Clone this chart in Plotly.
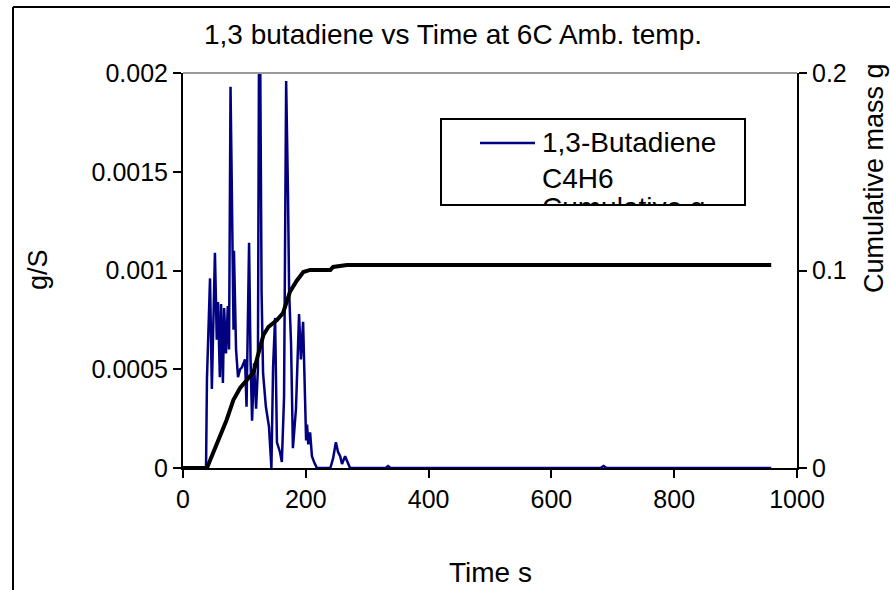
import plotly.graph_objects as go

# ---- data ----
time_rate = [0, 37.5, 39, 44, 47, 52, 55, 57, 60, 62, 65, 67, 70, 73, 75, 77.4, 79, 80.7, 82.3, 83,
             86.4, 89.6, 93, 96, 101, 103.5, 107.6, 110, 112.5, 115.7, 119, 122, 123.9, 125.5, 128,
             130.4, 135, 140, 144, 146.7, 150, 153, 158, 161, 164.6, 168, 169.5, 171, 172.8, 176,
             179, 184, 189, 192, 195.6, 199, 200.5, 202, 204, 207, 210, 213.5, 218, 240, 244.5, 249,
             252.6, 256, 259, 264, 267, 272, 330, 334, 338, 680, 685, 690, 958]
rate_gs = [0, 0, 0.00045, 0.00096, 0.00040, 0.00109, 0.00065, 0.00084, 0.00046, 0.00083, 0.00043,
           0.00081, 0.00058, 0.00082, 0.00060, 0.00193, 0.00154, 0.00112, 0.00070, 0.00110,
           0.00060, 0.00046, 0.00050, 0.00051, 0.00055, 0.00031, 0.00114, 0.00055, 0.00024, 0.00053,
           0.00030, 0.00050, 0.00220, 0.00220, 0.00089, 0.00048, 0.00031, 0.00021, 0.0, 0.00051,
           0.00076, 0.00013, 0.00008, 0.00003, 0.00036, 0.00196, 0.00170, 0.00139, 0.00090, 0.00063,
           0.00010, 0.00030, 0.00078, 0.00055, 0.00074, 0.00040, 0.00014, 0.00022, 0.00012, 0.00018,
           0.00006, 0.00003, 0.0, 0.0, 0.00005, 0.00013, 0.00008, 0.00006, 0.00002, 0.00006, 0.00004,
           0.0, 0.0, 0.00001, 0.0, 0.0, 0.00001, 0.0, 0.0]

time_cum = [0, 39, 41, 49, 60, 71, 82, 93, 104, 115, 123, 131, 139, 153, 163, 169, 174, 185, 196,
            207, 240, 244.5, 267, 958]
cum_mass = [0, 0, 0.0015, 0.0076, 0.0157, 0.0243, 0.0344, 0.0405, 0.0446, 0.0486, 0.0582, 0.0673,
            0.0714, 0.0749, 0.0785, 0.0840, 0.0891, 0.0947, 0.0992, 0.1003, 0.1003, 0.1018, 0.1028,
            0.1028]

x_ticks = [0, 200, 400, 600, 800, 1000]
y_ticks = [0, 0.0005, 0.001, 0.0015, 0.002]
y_ticktext = ["0", "0.0005", "0.001", "0.0015", "0.002"]
y2_ticks = [0, 0.1, 0.2]
y2_ticktext = ["0", "0.1", "0.2"]

title_text = "1,3 butadiene vs Time at 6C Amb. temp."
legend_lines = ["1,3-Butadiene", "C4H6", "Cumulative g"]

# ---- layout geometry (pixels) ----
W, H = 890, 590
L, R, T, B = 183, 797, 73, 468
FONT = "Liberation Sans, Arial, sans-serif"


def px(x):
    return (x - L) / (R - L)


def py(y):
    return (B - y) / (B - T)


fig = go.Figure()
fig.add_trace(go.Scatter(x=time_rate, y=rate_gs, mode="lines", name=legend_lines[0],
                         line=dict(color="#000080", width=2.5), yaxis="y"))
fig.add_trace(go.Scatter(x=time_cum, y=cum_mass, mode="lines", name=legend_lines[2],
                         line=dict(color="black", width=4), yaxis="y2"))

axis_common = dict(showgrid=False, zeroline=False, showline=True, linecolor="black", linewidth=2,
                   ticks="outside", ticklen=8, tickwidth=2, tickcolor="black",
                   tickfont=dict(family=FONT, size=25, color="black"))

fig.update_layout(
    width=W, height=H, autosize=False,
    margin=dict(l=L, r=W - R, t=T, b=H - B, pad=0),
    paper_bgcolor="white", plot_bgcolor="white",
    showlegend=False,
    xaxis=dict(range=[0, 1000], tickvals=x_ticks, **axis_common),
    yaxis=dict(range=[0, 0.002], tickvals=y_ticks, ticktext=y_ticktext, **axis_common),
    yaxis2=dict(range=[0, 0.2], tickvals=y2_ticks, ticktext=y2_ticktext, overlaying="y",
                side="right", **axis_common),
)

shapes = [
    # top plot border (gray)
    dict(type="line", xref="paper", yref="paper", x0=0, x1=1, y0=1, y1=1,
         line=dict(color="#999999", width=2)),
    # outer chart border
    dict(type="line", xref="paper", yref="paper", x0=px(13), x1=px(13), y0=py(7), y1=py(620),
         line=dict(color="black", width=2)),
    dict(type="line", xref="paper", yref="paper", x0=px(13), x1=px(920), y0=py(7), y1=py(7),
         line=dict(color="black", width=2)),
    # legend box
    dict(type="rect", xref="paper", yref="paper", x0=px(441), x1=px(745), y0=py(205), y1=py(119),
         line=dict(color="black", width=2), fillcolor="white", layer="above"),
    dict(type="line", xref="paper", yref="paper", x0=px(480), x1=px(535), y0=py(143), y1=py(143),
         line=dict(color="#000080", width=2.5), layer="above"),
]
fig.update_layout(shapes=shapes)

annotations = [
    dict(text=title_text, x=px(453), y=py(35), xref="paper", yref="paper", showarrow=False,
         xanchor="center", yanchor="middle", font=dict(family=FONT, size=28, color="black")),
    dict(text="g/S", x=px(38), y=py(270), xref="paper", yref="paper", showarrow=False,
         textangle=-90, xanchor="center", yanchor="middle",
         font=dict(family=FONT, size=27, color="black")),
    dict(text="Time s", x=px(490), y=py(572), xref="paper", yref="paper", showarrow=False,
         xanchor="center", yanchor="middle", font=dict(family=FONT, size=28, color="black")),
    dict(text="Cumulative mass g", x=px(874), y=py(178), xref="paper", yref="paper",
         showarrow=False, textangle=-90, xanchor="center", yanchor="middle",
         font=dict(family=FONT, size=27, color="black")),
    # legend text: first two lines
    dict(text="<br>".join(legend_lines[:2]), x=px(541), y=py(160.5), xref="paper", yref="paper",
         showarrow=False, xanchor="left", yanchor="middle", align="left",
         borderpad=0, font=dict(family=FONT, size=28, color="black")),
    # legend text: third line, clipped by the legend frame
    dict(text=legend_lines[2], x=px(541), y=py(191), xref="paper", yref="paper",
         showarrow=False, xanchor="left", yanchor="top", align="left", valign="top",
         height=13, width=202, borderpad=0,
         font=dict(family=FONT, size=28, color="black")),
]
fig.update_layout(annotations=annotations)

fig.write_html("out.html")
